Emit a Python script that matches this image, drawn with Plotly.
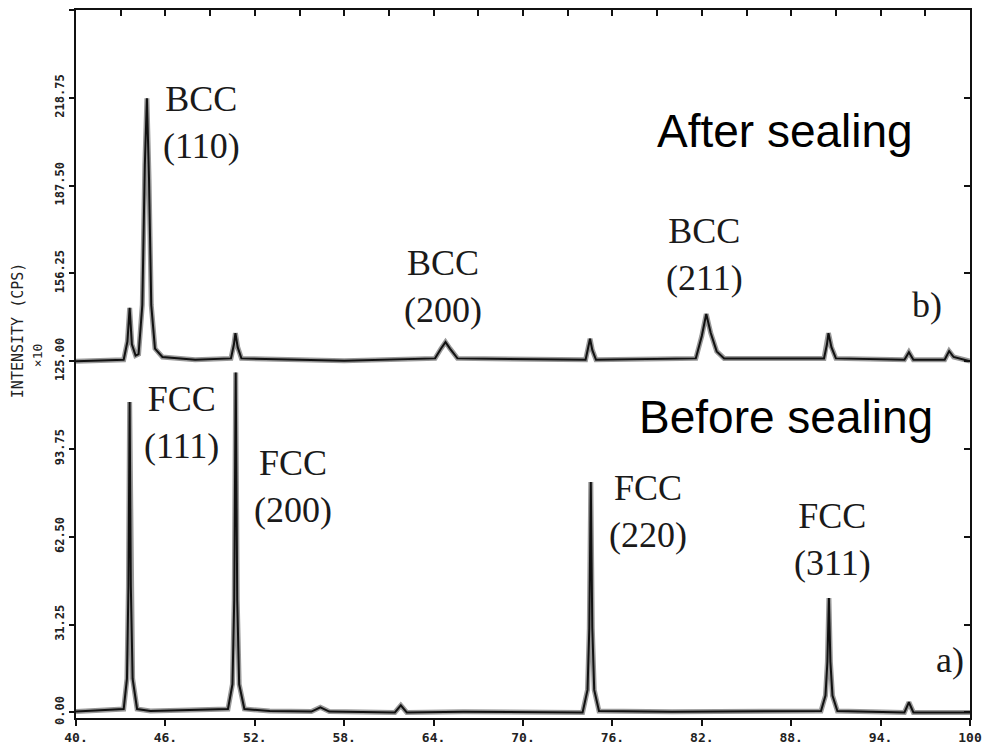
import plotly.graph_objects as go

# ---- data (2-theta in degrees, intensity in CPS x10) ----
# a) before sealing
a_x = [40.0, 42.0, 43.2, 43.42, 43.52, 43.6, 43.68, 43.8, 44.1, 45.0,
       50.2, 50.5, 50.62, 50.72, 50.82, 50.95, 51.3, 53.0,
       55.8, 56.4, 57.0, 61.4, 61.8, 62.2, 66.0,
       74.0, 74.33, 74.45, 74.55, 74.65, 74.78, 75.1, 80.0,
       90.0, 90.3, 90.43, 90.53, 90.63, 90.77, 91.1,
       95.6, 95.9, 96.2, 100.0]
a_y = [0.3, 0.8, 1.2, 12.0, 45.0, 110.5, 45.0, 12.0, 1.2, 0.5,
       1.2, 10.0, 40.0, 121.0, 40.0, 10.0, 1.2, 0.5,
       0.3, 1.8, 0.3, 0.0, 2.5, 0.0, 0.2,
       0.0, 8.0, 30.0, 82.0, 30.0, 8.0, 0.5, 0.2,
       0.5, 6.0, 18.0, 40.7, 18.0, 6.0, 0.5,
       0.0, 3.6, 0.0, 0.0]

# b) after sealing
b_x = [40.0, 43.2, 43.45, 43.6, 43.75, 44.0, 44.2, 44.45, 44.62, 44.76, 44.9, 45.05, 45.3, 45.8, 48.0,
       50.4, 50.6, 50.7, 50.85, 51.1, 58.0,
       64.1, 64.5, 64.8, 65.1, 65.6,
       74.2, 74.4, 74.5, 74.65, 74.9,
       81.6, 82.0, 82.3, 82.6, 83.0, 83.5,
       90.2, 90.4, 90.5, 90.7, 91.0,
       95.6, 95.9, 96.2, 98.3, 98.6, 98.9, 100.0]
b_y = [125.0, 125.5, 132.0, 144.0, 131.0, 127.0, 127.5, 145.0, 195.0, 218.6, 190.0, 145.0, 129.5, 126.5, 125.5,
       126.0, 131.0, 135.0, 130.0, 126.0, 125.2,
       126.0, 129.5, 131.8, 129.5, 126.0,
       125.5, 130.0, 133.0, 129.0, 125.5,
       126.0, 134.0, 141.8, 135.0, 128.5, 126.0,
       126.0, 131.0, 135.0, 130.0, 126.0,
       125.5, 128.2, 125.5, 125.5, 128.6, 126.5, 125.0]

x_ticks = [40, 46, 52, 58, 64, 70, 76, 82, 88, 94, 100]
x_tick_text = ["40.", "46.", "52.", "58.", "64.", "70.", "76.", "82.", "88.", "94.", "100"]
y_ticks = [0, 31.25, 62.5, 93.75, 125, 156.25, 187.5, 218.75, 250]
y_tick_text = ["0.00", "31.25", "62.50", "93.75", "125.00", "156.25", "187.50", "218.75", "250.00"]

# peak labels: (text, x, y)
serif_labels = [
    ("BCC<br>(110)", 48.39, 209.9),
    ("BCC<br>(200)", 64.63, 151.6),
    ("BCC<br>(211)", 82.21, 163.1),
    ("b)", 97.11, 145.0),
    ("FCC<br>(111)", 47.05, 103.2),
    ("FCC<br>(200)", 54.56, 80.5),
    ("FCC<br>(220)", 78.39, 71.6),
    ("FCC<br>(311)", 90.74, 61.7),
    ("a)", 98.66, 18.6),
]
sans_labels = [("After sealing", 87.58, 206.9), ("Before sealing", 87.65, 105.1)]

fig = go.Figure()
for xs, ys in [(a_x, a_y), (b_x, b_y)]:
    fig.add_trace(go.Scatter(x=xs, y=ys, mode="lines",
                             line=dict(color="#9a9a9a", width=5), hoverinfo="skip",
                             showlegend=False))
    fig.add_trace(go.Scatter(x=xs, y=ys, mode="lines",
                             line=dict(color="#111111", width=2), showlegend=False))

for t, x, y in serif_labels:
    fig.add_annotation(x=x, y=y, xref="x", yref="y", text=t, showarrow=False,
                       font=dict(family="Liberation Serif", size=36, color="#1a1a1a"),
                       xanchor="center", yanchor="middle", align="center")
for t, x, y in sans_labels:
    fig.add_annotation(x=x, y=y, xref="x", yref="y", text=t, showarrow=False,
                       font=dict(family="Liberation Sans", size=46, color="#000000"),
                       xanchor="center", yanchor="middle")

fig.add_annotation(x=-0.065, y=136, xref="paper", yref="y", text="INTENSITY (CPS)",
                   showarrow=False, textangle=-90,
                   font=dict(family="DejaVu Sans Mono", size=15, color="#222"),
                   xanchor="center", yanchor="middle")
fig.add_annotation(x=-0.043, y=127, xref="paper", yref="y", text="×10",
                   showarrow=False, textangle=-90,
                   font=dict(family="DejaVu Sans Mono", size=13, color="#222"),
                   xanchor="center", yanchor="middle")

fig.update_layout(
    xaxis=dict(range=[40, 100], tickvals=x_ticks, ticktext=x_tick_text,
               showline=True, linecolor="#111", linewidth=2, mirror=True,
               ticks="outside", ticklen=6, tickcolor="#111", tickwidth=2,
               showgrid=False, zeroline=False,
               tickfont=dict(family="DejaVu Sans Mono", size=13, color="#222", weight="bold")),
    yaxis=dict(range=[-2, 250], tickvals=y_ticks, ticktext=y_tick_text, tickangle=-90,
               showline=True, linecolor="#111", linewidth=2, mirror=True,
               ticks="outside", ticklen=5, tickcolor="#111", tickwidth=2,
               showgrid=False, zeroline=False,
               tickfont=dict(family="DejaVu Sans Mono", size=12, color="#222", weight="bold")),
    xaxis2=dict(range=[40, 100], overlaying="x", side="top", anchor="y",
                dtick=3, tick0=40, ticks="inside", ticklen=6, tickcolor="#111", tickwidth=2,
                showticklabels=False, showgrid=False, zeroline=False, showline=False),
    yaxis2=dict(range=[-2, 250], overlaying="y", side="right", anchor="x",
                tickvals=y_ticks, ticks="inside", ticklen=6, tickcolor="#111", tickwidth=2,
                showticklabels=False, showgrid=False, zeroline=False, showline=False),
    width=985, height=752,
    margin=dict(l=76, r=15, t=10, b=34, autoexpand=False),
    plot_bgcolor="white", paper_bgcolor="white",
)
# invisible helper trace so the top/right tick axes are drawn
fig.add_trace(go.Scatter(x=[40, 100], y=[0, 0], xaxis="x2", yaxis="y2", mode="lines",
                         line=dict(width=0), hoverinfo="skip", showlegend=False))

fig.write_html("out.html")
